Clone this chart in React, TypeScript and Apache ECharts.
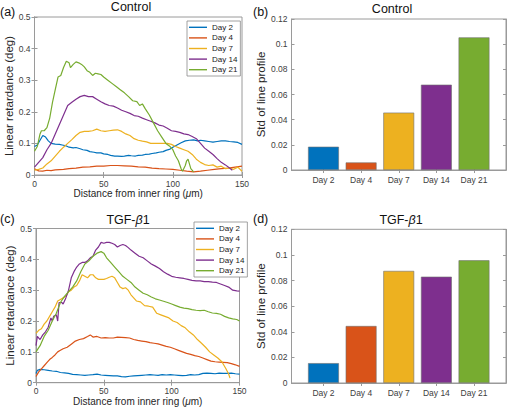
import React, { useEffect, useRef } from "react";
import * as echarts from "echarts";

const dayNames = ["Day 2", "Day 4", "Day 7", "Day 14", "Day 21"];
const dayColors = ["#0072BD", "#D95319", "#EDB120", "#7E2F8E", "#77AC30"];
const barPositions = [1, 2, 3, 4, 5];

const controlStd = [0.0185, 0.006, 0.0456, 0.0678, 0.1054];
const tgfStd = [0.0155, 0.0445, 0.0875, 0.083, 0.0958];

type Pt = [number, number];

const controlDay2: Pt[] = [[0,0.09],[2,0.095],[4,0.11],[6,0.125],[8,0.12],[10,0.108],[12,0.1],[15,0.098],[18,0.097],[20,0.095],[23,0.092],[25,0.088],[28,0.086],[30,0.087],[33,0.083],[35,0.08],[38,0.078],[40,0.074],[43,0.072],[45,0.07],[48,0.07],[50,0.067],[53,0.065],[55,0.062],[58,0.06],[60,0.06],[63,0.059],[65,0.06],[68,0.062],[70,0.061],[73,0.06],[75,0.062],[78,0.063],[80,0.065],[83,0.066],[85,0.068],[88,0.07],[90,0.072],[93,0.074],[95,0.078],[98,0.082],[100,0.088],[103,0.095],[106,0.102],[109,0.108],[112,0.11],[115,0.111],[118,0.108],[120,0.11],[123,0.108],[126,0.106],[129,0.104],[132,0.106],[135,0.108],[138,0.108],[141,0.106],[144,0.105],[147,0.103],[150,0.097]];
const controlDay4: Pt[] = [[0,0.02],[3,0.013],[6,0.012],[9,0.015],[12,0.014],[15,0.016],[18,0.017],[21,0.018],[25,0.02],[30,0.022],[35,0.025],[40,0.026],[45,0.028],[50,0.028],[55,0.03],[60,0.03],[65,0.029],[70,0.028],[75,0.026],[80,0.025],[85,0.022],[90,0.02],[95,0.019],[100,0.018],[105,0.015],[110,0.012],[115,0.01],[120,0.012],[125,0.015],[130,0.018],[135,0.02],[140,0.022],[145,0.025],[150,0.028]];
const controlDay7: Pt[] = [[0,0.015],[3,0.018],[6,0.022],[9,0.035],[12,0.045],[15,0.06],[18,0.075],[21,0.088],[24,0.1],[27,0.112],[30,0.125],[33,0.135],[36,0.138],[39,0.138],[42,0.14],[45,0.145],[48,0.14],[51,0.138],[54,0.14],[57,0.142],[60,0.143],[63,0.138],[66,0.13],[69,0.125],[72,0.115],[75,0.11],[78,0.107],[81,0.105],[84,0.1],[87,0.1],[90,0.1],[93,0.1],[96,0.1],[99,0.097],[102,0.09],[105,0.085],[108,0.08],[111,0.075],[114,0.065],[117,0.05],[120,0.04],[123,0.033],[126,0.03],[129,0.032],[132,0.025],[135,0.028],[138,0.02],[141,0.022],[144,0.018],[147,0.025],[150,0.012]];
const controlDay14: Pt[] = [[0,0.025],[3,0.04],[6,0.055],[9,0.08],[12,0.1],[15,0.13],[18,0.16],[21,0.19],[24,0.22],[27,0.23],[30,0.24],[33,0.248],[36,0.252],[39,0.248],[42,0.248],[45,0.24],[48,0.232],[51,0.225],[54,0.22],[57,0.218],[60,0.212],[63,0.205],[66,0.2],[69,0.195],[72,0.188],[75,0.186],[78,0.18],[81,0.175],[84,0.17],[87,0.165],[90,0.158],[93,0.155],[96,0.148],[99,0.14],[102,0.138],[105,0.135],[108,0.13],[111,0.128],[114,0.122],[117,0.115],[120,0.1],[123,0.085],[126,0.075],[129,0.065],[132,0.052],[135,0.04],[138,0.032],[141,0.022],[143,0.015]];
const controlDay21: Pt[] = [[0,0.075],[2,0.09],[4,0.13],[5,0.14],[7,0.14],[9,0.15],[11,0.18],[13,0.23],[15,0.27],[17,0.31],[19,0.315],[21,0.34],[23,0.36],[25,0.355],[26,0.34],[28,0.35],[30,0.358],[32,0.355],[34,0.35],[36,0.342],[38,0.33],[40,0.325],[42,0.315],[44,0.322],[46,0.32],[48,0.318],[50,0.31],[53,0.3],[56,0.29],[59,0.28],[62,0.27],[65,0.26],[68,0.248],[71,0.235],[74,0.232],[76,0.22],[78,0.225],[80,0.21],[83,0.19],[86,0.165],[89,0.14],[92,0.12],[95,0.1],[98,0.09],[100,0.08],[102,0.06],[104,0.045],[106,0.02],[107,0.012],[109,0.03],[110,0.045],[111,0.05],[113,0.02],[115,0.01]];

const tgfDay2: Pt[] = [[0,0.03],[1,0.04],[3,0.043],[6,0.042],[9,0.04],[12,0.038],[15,0.037],[18,0.033],[21,0.032],[24,0.03],[27,0.027],[30,0.026],[33,0.025],[36,0.024],[39,0.025],[42,0.026],[45,0.028],[48,0.025],[51,0.024],[54,0.023],[57,0.022],[60,0.022],[63,0.02],[66,0.019],[69,0.021],[72,0.022],[75,0.023],[78,0.024],[81,0.025],[84,0.026],[87,0.025],[90,0.024],[93,0.026],[96,0.025],[99,0.026],[102,0.025],[105,0.024],[108,0.023],[111,0.024],[114,0.026],[117,0.025],[120,0.026],[123,0.03],[126,0.031],[129,0.03],[132,0.029],[135,0.031],[138,0.03],[141,0.03],[144,0.031],[147,0.029],[150,0.028]];
const tgfDay4: Pt[] = [[0,0.02],[2,0.035],[4,0.045],[6,0.055],[8,0.065],[10,0.075],[12,0.082],[14,0.09],[16,0.1],[18,0.105],[20,0.11],[23,0.115],[26,0.125],[29,0.135],[32,0.14],[35,0.143],[38,0.15],[40,0.155],[42,0.148],[45,0.15],[48,0.145],[51,0.146],[54,0.145],[57,0.145],[60,0.148],[63,0.147],[66,0.146],[69,0.145],[72,0.14],[75,0.137],[78,0.135],[81,0.133],[84,0.13],[87,0.128],[90,0.126],[93,0.122],[96,0.118],[99,0.115],[102,0.11],[105,0.105],[108,0.1],[111,0.095],[114,0.092],[117,0.088],[120,0.085],[123,0.08],[126,0.075],[129,0.07],[132,0.068],[135,0.067],[138,0.066],[141,0.065],[144,0.062],[147,0.058],[150,0.053]];
const tgfDay7: Pt[] = [[0,0.16],[2,0.17],[4,0.175],[6,0.19],[8,0.2],[10,0.215],[12,0.23],[14,0.245],[16,0.265],[18,0.27],[20,0.275],[22,0.28],[24,0.295],[26,0.3],[28,0.31],[30,0.315],[32,0.33],[34,0.35],[36,0.345],[38,0.34],[40,0.35],[42,0.35],[44,0.34],[46,0.335],[48,0.335],[50,0.335],[52,0.338],[54,0.342],[56,0.345],[58,0.34],[60,0.325],[62,0.31],[64,0.305],[66,0.308],[68,0.3],[70,0.285],[72,0.275],[74,0.265],[77,0.262],[80,0.25],[83,0.248],[86,0.245],[89,0.225],[92,0.22],[95,0.215],[98,0.21],[101,0.2],[104,0.195],[107,0.185],[110,0.178],[113,0.165],[116,0.155],[119,0.14],[122,0.128],[125,0.115],[128,0.1],[131,0.09],[134,0.08],[137,0.068],[140,0.045],[142,0.028],[143,0.015]];
const tgfDay14: Pt[] = [[0,0.12],[1,0.15],[3,0.14],[5,0.155],[7,0.165],[9,0.18],[11,0.21],[12,0.2],[13,0.215],[15,0.22],[16,0.2],[17,0.26],[19,0.26],[20,0.255],[22,0.275],[24,0.3],[26,0.34],[28,0.36],[30,0.375],[32,0.385],[34,0.39],[36,0.39],[38,0.395],[40,0.405],[42,0.41],[44,0.43],[46,0.44],[48,0.455],[50,0.452],[52,0.455],[54,0.455],[56,0.452],[58,0.448],[60,0.44],[62,0.445],[64,0.448],[66,0.445],[68,0.438],[70,0.43],[73,0.42],[76,0.41],[79,0.405],[82,0.395],[85,0.385],[88,0.378],[91,0.37],[94,0.36],[97,0.352],[100,0.345],[103,0.342],[106,0.34],[109,0.338],[112,0.335],[115,0.332],[118,0.33],[121,0.33],[124,0.328],[127,0.328],[130,0.326],[133,0.325],[136,0.32],[139,0.315],[142,0.31],[145,0.3],[148,0.298],[150,0.297]];
const tgfDay21: Pt[] = [[0,0.1],[3,0.12],[6,0.15],[9,0.17],[12,0.2],[15,0.225],[18,0.26],[21,0.28],[24,0.295],[27,0.31],[30,0.33],[33,0.36],[36,0.385],[39,0.395],[42,0.41],[45,0.42],[48,0.425],[50,0.42],[52,0.405],[55,0.39],[58,0.375],[61,0.36],[64,0.345],[67,0.335],[70,0.325],[73,0.31],[76,0.3],[79,0.29],[82,0.285],[85,0.278],[88,0.272],[91,0.268],[94,0.264],[97,0.26],[100,0.255],[103,0.25],[106,0.245],[109,0.242],[112,0.24],[115,0.237],[118,0.235],[121,0.234],[124,0.235],[127,0.23],[130,0.226],[133,0.225],[136,0.222],[139,0.215],[142,0.21],[145,0.207],[148,0.205],[150,0.2]];

const controlLines = [controlDay2, controlDay4, controlDay7, controlDay14, controlDay21];
const tgfLines = [tgfDay2, tgfDay4, tgfDay7, tgfDay14, tgfDay21];

const FONT = "'Liberation Sans', Arial, Helvetica, sans-serif";
const FRAME = "#9a9a9a";
const LABEL = "#404040";

const lineXAxes = (gridIndex: number, nameGap: number) => {
  const base: any = {
    type: "value", gridIndex, min: 0, max: 150, interval: 50,
    splitLine: { show: false },
    axisLine: { show: true, lineStyle: { color: FRAME, width: 1 } },
    axisTick: { show: true, inside: true, length: 3, lineStyle: { color: FRAME } },
  };
  return [
    {
      ...base, position: "bottom",
      axisLabel: { fontSize: 8.5, color: LABEL, margin: 4, fontFamily: FONT },
      name: "Distance from inner ring ({i|μ}m)", nameLocation: "middle", nameGap,
      nameTextStyle: { fontSize: 10, color: "#262626", fontFamily: FONT, rich: { i: { fontStyle: "italic", fontSize: 10, color: "#262626", fontFamily: FONT } } },
    },
    { ...base, position: "top", axisLabel: { show: false } },
  ];
};

const lineYAxes = (gridIndex: number, nameGap: number) => {
  const base: any = {
    type: "value", gridIndex, min: 0, max: 0.5, interval: 0.1,
    splitLine: { show: false },
    axisLine: { show: true, lineStyle: { color: FRAME, width: 1 } },
    axisTick: { show: true, inside: true, length: 3, lineStyle: { color: FRAME } },
  };
  return [
    {
      ...base, position: "left",
      axisLabel: { fontSize: 8.5, color: LABEL, margin: 4, fontFamily: FONT },
      name: "Linear retardance (deg)", nameLocation: "middle", nameGap,
      nameTextStyle: { fontSize: 11.5, color: "#262626", fontFamily: FONT },
    },
    { ...base, position: "right", axisLabel: { show: false } },
  ];
};

const barXAxes = (gridIndex: number) => {
  const base: any = {
    type: "value", gridIndex, min: 0.15, max: 5.85,
    splitLine: { show: false },
    axisLine: { show: true, lineStyle: { color: FRAME, width: 1 } },
    axisTick: { show: true, inside: true, length: 3, lineStyle: { color: FRAME }, customValues: barPositions },
  };
  return [
    {
      ...base, position: "bottom",
      axisLabel: {
        fontSize: 8.5, color: LABEL, margin: 5, fontFamily: FONT, customValues: barPositions,
        formatter: (v: number) => dayNames[barPositions.indexOf(v)] ?? "",
      },
    },
    { ...base, position: "top", axisLabel: { show: false } },
  ];
};

const barYAxes = (gridIndex: number, nameGap: number) => {
  const base: any = {
    type: "value", gridIndex, min: 0, max: 0.12, interval: 0.02,
    splitLine: { show: false },
    axisLine: { show: true, lineStyle: { color: FRAME, width: 1 } },
    axisTick: { show: true, inside: true, length: 3, lineStyle: { color: FRAME } },
  };
  return [
    {
      ...base, position: "left",
      axisLabel: { fontSize: 8.5, color: LABEL, margin: 4, fontFamily: FONT },
      name: "Std of line profile", nameLocation: "middle", nameGap,
      nameTextStyle: { fontSize: 11.5, color: "#262626", fontFamily: FONT },
    },
    { ...base, position: "right", axisLabel: { show: false } },
  ];
};

const titleStyle = { fontSize: 12.5, fontWeight: "normal", color: "#111", fontFamily: FONT };
const richTitleStyle = { ...titleStyle, rich: { i: { ...titleStyle, fontStyle: "italic" } } };

const legendBase = (left: number, top: number) => ({
  data: dayNames, orient: "vertical", left, top,
  icon: "rect", itemWidth: 18, itemHeight: 1.4, itemGap: 0, padding: [1, 3, 1, 2],
  borderColor: "#8a8a8a", borderWidth: 0.8, backgroundColor: "#fff",
  selectedMode: false,
  textStyle: { fontSize: 8, lineHeight: 10.6, color: "#222", fontFamily: FONT },
});

const lineSeries = (lines: Pt[][], axisIndex: number) =>
  lines.map((d, i) => ({
    type: "line", name: dayNames[i], xAxisIndex: axisIndex, yAxisIndex: axisIndex,
    data: d, symbol: "none", showSymbol: false,
    lineStyle: { color: dayColors[i], width: 1.2 }, itemStyle: { color: dayColors[i] },
  }));

const barSeries = (values: number[], axisIndex: number, name: string) => ({
  type: "bar", name, xAxisIndex: axisIndex, yAxisIndex: axisIndex, barWidth: "82%",
  itemStyle: { borderColor: "#707070", borderWidth: 0.6 },
  data: values.map((v, i) => ({ value: [barPositions[i], v], itemStyle: { color: dayColors[i] } })),
});

const gridStyle = { show: true, borderColor: FRAME, borderWidth: 1, backgroundColor: "#fff" };

const option: any = {
  animation: false,
  backgroundColor: "#fff",
  textStyle: { fontFamily: FONT },
  title: [
    { text: "Control", left: 131, top: 0, textAlign: "center", padding: 0, textStyle: titleStyle },
    { text: "Control", left: 392, top: 2, textAlign: "center", padding: 0, textStyle: titleStyle },
    { text: "TGF-{i|β}1", left: 128, top: 213, textAlign: "center", padding: 0, textStyle: richTitleStyle },
    { text: "TGF-{i|β}1", left: 401, top: 213, textAlign: "center", padding: 0, textStyle: richTitleStyle },
    { text: "(a)", left: 0, top: 5, padding: 0, textStyle: titleStyle },
    { text: "(b)", left: 253, top: 5, padding: 0, textStyle: titleStyle },
    { text: "(c)", left: 0, top: 212, padding: 0, textStyle: titleStyle },
    { text: "(d)", left: 253, top: 212, padding: 0, textStyle: titleStyle },
  ],
  legend: [legendBase(187, 21), legendBase(194, 222)],
  grid: [
    { ...gridStyle, left: 34.5, top: 17, width: 207.5, height: 158 },
    { ...gridStyle, left: 291.5, top: 19, width: 214.5, height: 151 },
    { ...gridStyle, left: 36, top: 228.5, width: 203.5, height: 154.2 },
    { ...gridStyle, left: 291.5, top: 229.3, width: 214.5, height: 153.7 },
  ],
  xAxis: [
    ...lineXAxes(0, 12),
    ...barXAxes(1),
    ...lineXAxes(2, 12),
    ...barXAxes(3),
  ],
  yAxis: [
    ...lineYAxes(0, 17),
    ...barYAxes(1, 22),
    ...lineYAxes(2, 18),
    ...barYAxes(3, 21),
  ],
  series: [
    ...lineSeries(controlLines, 0),
    barSeries(controlStd, 2, "Control std"),
    ...lineSeries(tgfLines, 4),
    barSeries(tgfStd, 6, "TGF std"),
  ],
};

export default function App() {
  const ref = useRef<HTMLDivElement>(null);
  useEffect(() => {
    if (!ref.current) return;
    const chart = echarts.init(ref.current, null, { renderer: "svg" });
    chart.setOption(option);
    return () => chart.dispose();
  }, []);
  return <div ref={ref} style={{ position: "absolute", left: 0, top: 0, width: 510, height: 408 }} />;
}
